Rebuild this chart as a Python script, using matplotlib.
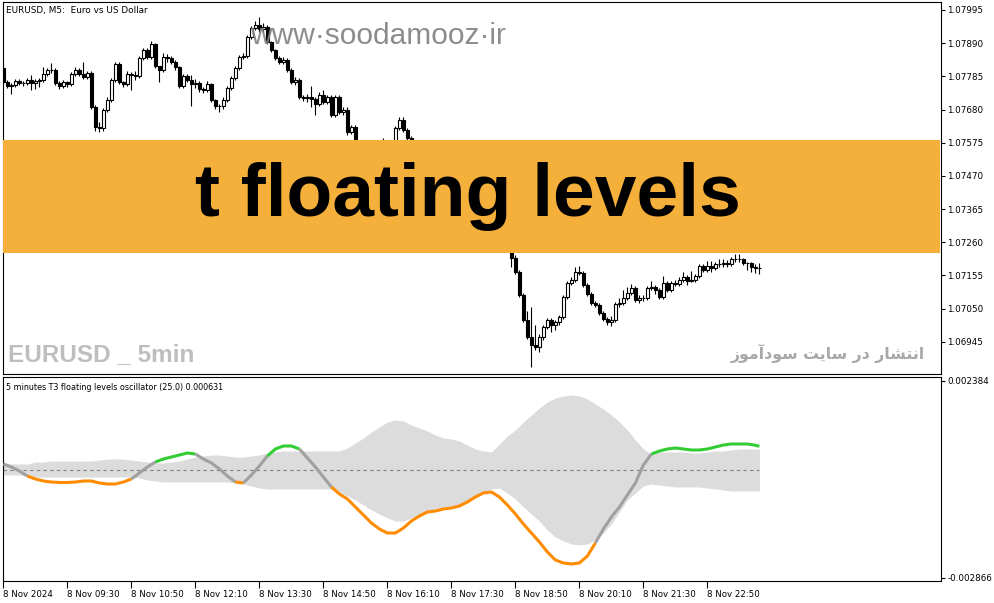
import numpy as np
import matplotlib
matplotlib.use("Agg")
import matplotlib.pyplot as plt
from matplotlib.patches import Rectangle

W, H = 994, 603

# EURUSD M5, 8 Nov 2024, bars 08:10 .. 23:55
first_open = 1.07812
closes = [
    1.07767, 1.07755, 1.07758, 1.07771, 1.07764, 1.07764, 1.07774, 1.07764, 1.07771, 1.07774,
    1.07793, 1.07805, 1.07805, 1.07764, 1.07755, 1.07767, 1.07761, 1.07793, 1.07805, 1.07793,
    1.07783, 1.07796, 1.07688, 1.07625, 1.07622, 1.07679, 1.07710, 1.07774, 1.07824, 1.07767,
    1.07761, 1.07793, 1.07790, 1.07786, 1.07843, 1.07869, 1.07847, 1.07888, 1.07818, 1.07805,
    1.07847, 1.07843, 1.07831, 1.07815, 1.07755, 1.07786, 1.07774, 1.07761, 1.07764, 1.07745,
    1.07742, 1.07761, 1.07710, 1.07691, 1.07691, 1.07710, 1.07748, 1.07780, 1.07812, 1.07847,
    1.07850, 1.07910, 1.07938, 1.07948, 1.07935, 1.07942, 1.07894, 1.07869, 1.07843, 1.07831,
    1.07837, 1.07805, 1.07767, 1.07774, 1.07720, 1.07717, 1.07720, 1.07714, 1.07698, 1.07726,
    1.07704, 1.07720, 1.07663, 1.07720, 1.07672, 1.07679, 1.07609, 1.07625, 1.07578, 1.07568,
    1.07559, 1.07552, 1.07565, 1.07559, 1.07568, 1.07562, 1.07559, 1.07559, 1.07622, 1.07647,
    1.07616, 1.07590, 1.07568, 1.07552, 1.07527, 1.07514, 1.07489, 1.07495, 1.07473, 1.07457,
    1.07464, 1.07441, 1.07451, 1.07470, 1.07457, 1.07483, 1.07473, 1.07489, 1.07464, 1.07441,
    1.07426, 1.07394, 1.07362, 1.07346, 1.07315, 1.07283, 1.07252, 1.07210, 1.07166, 1.07093,
    1.07014, 1.06960, 1.06935, 1.06929, 1.06960, 1.06992, 1.07014, 1.06998, 1.07008, 1.07023,
    1.07087, 1.07131, 1.07141, 1.07166, 1.07163, 1.07125, 1.07097, 1.07068, 1.07062, 1.07036,
    1.07017, 1.07008, 1.07014, 1.07065, 1.07068, 1.07084, 1.07100, 1.07115, 1.07078, 1.07084,
    1.07084, 1.07115, 1.07119, 1.07109, 1.07087, 1.07131, 1.07109, 1.07131, 1.07128, 1.07141,
    1.07150, 1.07138, 1.07141, 1.07153, 1.07185, 1.07172, 1.07185, 1.07179, 1.07191, 1.07191,
    1.07194, 1.07191, 1.07206, 1.07206, 1.07206, 1.07194, 1.07194, 1.07182, 1.07179, 1.07179,
]
highs = [
    1.07818, 1.07774, 1.07764, 1.07777, 1.07777, 1.07771, 1.07780, 1.07790, 1.07777, 1.07780,
    1.07815, 1.07812, 1.07828, 1.07812, 1.07771, 1.07774, 1.07771, 1.07799, 1.07815, 1.07812,
    1.07831, 1.07802, 1.07802, 1.07694, 1.07640, 1.07686, 1.07720, 1.07780, 1.07831, 1.07831,
    1.07771, 1.07802, 1.07799, 1.07802, 1.07850, 1.07875, 1.07875, 1.07897, 1.07891, 1.07818,
    1.07859, 1.07856, 1.07850, 1.07837, 1.07818, 1.07793, 1.07793, 1.07790, 1.07777, 1.07771,
    1.07752, 1.07771, 1.07764, 1.07714, 1.07698, 1.07720, 1.07755, 1.07786, 1.07818, 1.07853,
    1.07859, 1.07916, 1.07945, 1.07960, 1.07973, 1.07954, 1.07948, 1.07897, 1.07872, 1.07850,
    1.07847, 1.07843, 1.07812, 1.07783, 1.07780, 1.07726, 1.07729, 1.07755, 1.07720, 1.07736,
    1.07742, 1.07726, 1.07726, 1.07726, 1.07726, 1.07688, 1.07688, 1.07631, 1.07631, 1.07584,
    1.07574, 1.07565, 1.07578, 1.07574, 1.07578, 1.07590, 1.07571, 1.07574, 1.07628, 1.07656,
    1.07656, 1.07622, 1.07597, 1.07574, 1.07558, 1.07533, 1.07520, 1.07505, 1.07501, 1.07480,
    1.07473, 1.07470, 1.07460, 1.07476, 1.07476, 1.07489, 1.07492, 1.07495, 1.07495, 1.07470,
    1.07448, 1.07432, 1.07400, 1.07372, 1.07352, 1.07321, 1.07290, 1.07258, 1.07220, 1.07172,
    1.07100, 1.07042, 1.07055, 1.06998, 1.06970, 1.06998, 1.07020, 1.07020, 1.07014, 1.07030,
    1.07093, 1.07138, 1.07150, 1.07182, 1.07185, 1.07169, 1.07131, 1.07103, 1.07074, 1.07068,
    1.07042, 1.07023, 1.07025, 1.07071, 1.07084, 1.07109, 1.07119, 1.07128, 1.07122, 1.07093,
    1.07093, 1.07122, 1.07138, 1.07125, 1.07115, 1.07153, 1.07138, 1.07138, 1.07141, 1.07150,
    1.07166, 1.07157, 1.07169, 1.07160, 1.07191, 1.07191, 1.07201, 1.07201, 1.07198, 1.07207,
    1.07207, 1.07204, 1.07213, 1.07223, 1.07223, 1.07210, 1.07198, 1.07198, 1.07191, 1.07194,
]
lows = [
    1.07761, 1.07748, 1.07730, 1.07752, 1.07758, 1.07755, 1.07758, 1.07742, 1.07745, 1.07752,
    1.07767, 1.07786, 1.07796, 1.07758, 1.07745, 1.07748, 1.07752, 1.07755, 1.07786, 1.07786,
    1.07777, 1.07777, 1.07682, 1.07612, 1.07609, 1.07612, 1.07672, 1.07704, 1.07767, 1.07761,
    1.07752, 1.07755, 1.07742, 1.07774, 1.07780, 1.07837, 1.07840, 1.07840, 1.07812, 1.07767,
    1.07799, 1.07831, 1.07824, 1.07805, 1.07748, 1.07748, 1.07767, 1.07690, 1.07748, 1.07736,
    1.07733, 1.07736, 1.07704, 1.07682, 1.07672, 1.07682, 1.07704, 1.07742, 1.07774, 1.07805,
    1.07840, 1.07843, 1.07904, 1.07932, 1.07926, 1.07926, 1.07888, 1.07862, 1.07837, 1.07824,
    1.07824, 1.07799, 1.07761, 1.07758, 1.07714, 1.07707, 1.07704, 1.07688, 1.07663, 1.07691,
    1.07698, 1.07698, 1.07656, 1.07656, 1.07666, 1.07663, 1.07600, 1.07603, 1.07565, 1.07555,
    1.07546, 1.07540, 1.07546, 1.07549, 1.07552, 1.07552, 1.07549, 1.07546, 1.07552, 1.07616,
    1.07609, 1.07581, 1.07559, 1.07546, 1.07520, 1.07505, 1.07480, 1.07483, 1.07466, 1.07450,
    1.07450, 1.07435, 1.07435, 1.07445, 1.07450, 1.07450, 1.07466, 1.07466, 1.07457, 1.07435,
    1.07419, 1.07388, 1.07356, 1.07340, 1.07308, 1.07277, 1.07245, 1.07182, 1.07160, 1.07087,
    1.07008, 1.06954, 1.06865, 1.06919, 1.06913, 1.06951, 1.06985, 1.06976, 1.06983, 1.06998,
    1.07017, 1.07080, 1.07125, 1.07134, 1.07157, 1.07119, 1.07090, 1.07062, 1.07055, 1.07030,
    1.07011, 1.06998, 1.06995, 1.07008, 1.07055, 1.07062, 1.07078, 1.07093, 1.07071, 1.07068,
    1.07074, 1.07078, 1.07109, 1.07097, 1.07081, 1.07081, 1.07103, 1.07103, 1.07122, 1.07122,
    1.07134, 1.07125, 1.07134, 1.07134, 1.07147, 1.07166, 1.07166, 1.07166, 1.07172, 1.07182,
    1.07182, 1.07182, 1.07185, 1.07198, 1.07198, 1.07188, 1.07172, 1.07166, 1.07163, 1.07160,
]

price_ticks = [1.06945, 1.07050, 1.07155, 1.07260, 1.07365, 1.07470,
               1.07575, 1.07680, 1.07785, 1.07890, 1.07995]
time_tick_bars = [0, 16, 32, 48, 64, 80, 96, 112, 128, 144, 160, 176]
time_tick_labels = ["8 Nov 2024", "8 Nov 09:30", "8 Nov 10:50", "8 Nov 12:10",
                    "8 Nov 13:30", "8 Nov 14:50", "8 Nov 16:10", "8 Nov 17:30",
                    "8 Nov 18:50", "8 Nov 20:10", "8 Nov 21:30", "8 Nov 22:50"]

# T3 floating levels oscillator, values in millionths, every 2nd bar + last bar
osc_bars = list(range(0, 189, 2)) + [189]
osc_e6 = [
    160, 80, -27, -160, -240, -293, -320, -333, -333, -320,
    -293, -293, -346, -373, -373, -320, -240, -80, 80, 213,
    293, 346, 400, 453, 426, 293, 187, 27, -160, -320,
    -346, -133, 107, 373, 560, 640, 640, 560, 320, 80,
    -187, -453, -640, -773, -986, -1199, -1412, -1572, -1679, -1679,
    -1546, -1359, -1226, -1119, -1093, -1039, -1013, -959, -853, -720,
    -613, -586, -720, -933, -1173, -1439, -1679, -1919, -2185, -2399,
    -2478, -2505, -2478, -2292, -1945, -1572, -1253, -986, -666, -346,
    133, 426, 506, 560, 586, 560, 533, 533, 560, 613,
    666, 693, 693, 693, 660, 631,
]
upper_e6 = [
    160, 160, 160, 160, 213, 213, 240, 240, 240, 240,
    240, 240, 267, 293, 293, 293, 267, 240, 213, 187,
    187, 213, 240, 293, 346, 373, 400, 400, 373, 346,
    346, 373, 400, 453, 480, 506, 506, 506, 506, 506,
    506, 506, 506, 586, 720, 853, 1013, 1146, 1279, 1333,
    1306, 1199, 1119, 1039, 933, 853, 826, 773, 666, 560,
    506, 480, 693, 906, 1066, 1279, 1466, 1652, 1812, 1919,
    1972, 1999, 1972, 1892, 1759, 1626, 1466, 1279, 1066, 800,
    560, 426, 480, 480, 480, 480, 453, 453, 480, 506,
    506, 533, 560, 560, 560, 560,
]
lower_e6 = [
    -133, -133, -133, -160, -187, -187, -187, -187, -187, -187,
    -187, -187, -187, -187, -187, -187, -187, -213, -267, -293,
    -320, -320, -320, -320, -320, -320, -320, -320, -320, -346,
    -373, -426, -480, -506, -506, -506, -506, -506, -506, -506,
    -506, -506, -613, -693, -800, -933, -1066, -1173, -1279, -1359,
    -1359, -1279, -1173, -1093, -1039, -986, -959, -906, -800, -693,
    -613, -506, -480, -613, -773, -986, -1173, -1359, -1599, -1786,
    -1892, -1972, -1999, -1972, -1866, -1679, -1439, -1119, -800, -613,
    -426, -373, -400, -426, -453, -453, -453, -453, -480, -506,
    -533, -560, -560, -560, -560, -560,
]
# n = neutral, g = above upper level, o = below lower level
osc_state = ("nnn" + "o" * 13 + "nnn" + "g" * 5 + "n" * 5 + "o" + "nnn" + "gggg"
             + "nnnn" + "o" * 33 + "n" * 7 + "g" * 15)
osc_ticks = [0.002384, -0.002866]

plt.rcParams['font.family'] = 'DejaVu Sans'


def fpos(x, y):
    # pixel position (from top-left) -> figure fraction
    return x / W, 1 - y / H


fig = plt.figure(figsize=(W / 100, H / 100), dpi=100)
ax1 = fig.add_axes([3 / W, 1 - 374 / H, 938 / W, 372 / H])
ax2 = fig.add_axes([3 / W, 1 - 581 / H, 938 / W, 204 / H])

# candles
x = np.arange(len(closes))
c = np.array(closes)
o = np.array([first_open] + closes[:-1])
up = c >= o
ax1.vlines(x, lows, highs, color='black', lw=0.8, zorder=1)
ax1.bar(x[up], c[up] - o[up], bottom=o[up], width=0.62, facecolor='white',
        edgecolor='black', lw=0.8, zorder=2)
ax1.bar(x[~up], o[~up] - c[~up], bottom=c[~up], width=0.62, facecolor='black',
        edgecolor='black', lw=0.8, zorder=2)

ax1.set_xlim(-0.1, 234.4)
ax1.set_ylim(1.068428, 1.080203)
ax1.set_xticks([])
ax1.yaxis.tick_right()
ax1.set_yticks(price_ticks)
ax1.set_yticklabels([f"{p:.5f}" for p in price_ticks])
ax1.tick_params(axis='y', direction='out', length=3, width=0.8, labelsize=6.3, pad=1.5)
for s in ax1.spines.values():
    s.set_linewidth(0.8)

# oscillator
osc = np.array(osc_e6) * 1e-6
upper = np.array(upper_e6) * 1e-6
lower = np.array(lower_e6) * 1e-6
ax2.fill_between(osc_bars, lower, upper, color='#DCDCDC', lw=0, zorder=1)
ax2.plot([osc_bars[0], osc_bars[-1]], [0, 0], color='#808080', lw=0.8,
         ls=(0, (3, 3)), zorder=2)
colors = {'n': '#A0A0A0', 'g': '#32CD32', 'o': '#FF8C00'}
start = 0
for k in range(1, len(osc_bars)):
    if k == len(osc_bars) - 1 or osc_state[k] != osc_state[start]:
        ax2.plot(osc_bars[start:k + 1], osc[start:k + 1], color=colors[osc_state[start]],
                 lw=2.2, solid_capstyle='butt', zorder=3)
        start = k

ax2.set_xlim(-0.1, 234.4)
ax2.set_ylim(-0.0029582, 0.0024785)
ax2.yaxis.tick_right()
ax2.set_yticks(osc_ticks)
ax2.set_yticklabels([f"{v:.6f}" for v in osc_ticks])
ax2.tick_params(axis='y', direction='out', length=3, width=0.8, labelsize=6.3, pad=1.5)
ax2.set_xticks(time_tick_bars)
ax2.set_xticklabels(time_tick_labels, ha='left')
ax2.tick_params(axis='x', direction='out', length=5, width=0.8, labelsize=6.2, pad=1.5)
for s in ax2.spines.values():
    s.set_linewidth(0.8)

# panel captions
fig.text(*fpos(6, 10), "EURUSD, M5:  Euro vs US Dollar", fontsize=6.4, va='center')
fig.text(*fpos(6, 387), "5 minutes T3 floating levels oscillator (25.0) 0.000631",
         fontsize=5.8, va='center')

# watermarks and banner
fig.text(*fpos(378, 36), "www\u00b7soodamooz\u00b7ir", fontsize=21.5, color='#808080',
         family='Liberation Sans', ha='center', va='center', alpha=0.9)
fig.text(*fpos(8, 355), "EURUSD _ 5min", fontsize=17.5, color='#BEBEBE', weight='bold',
         family='Liberation Sans', ha='left', va='center')
# "انتشار در سایت سودآموز" in presentation forms, put in visual order
persian = ("\uFE8D\uFEE7\uFE98\uFEB8\uFE8E\uFEAD \uFEA9\uFEAD "
           "\uFEB3\uFE8E\uFEF3\uFE96 \uFEB3\uFEEE\uFEA9\uFE81\uFEE3\uFEEE\uFEAF")
fig.text(*fpos(925, 353), persian[::-1], fontsize=11.3, color='#A8A8A8', weight='bold',
         family='DejaVu Sans', ha='right', va='center')

fig.add_artist(Rectangle(fpos(3, 253), 937 / W, 113 / H, transform=fig.transFigure,
                         facecolor='#F4B03A', edgecolor='none', zorder=5))
fig.text(*fpos(468, 196), "t floating levels", fontsize=54, weight='bold',
         family='Liberation Sans', color='black', ha='center', va='center', zorder=6)

fig.savefig("out.png", dpi=100)
